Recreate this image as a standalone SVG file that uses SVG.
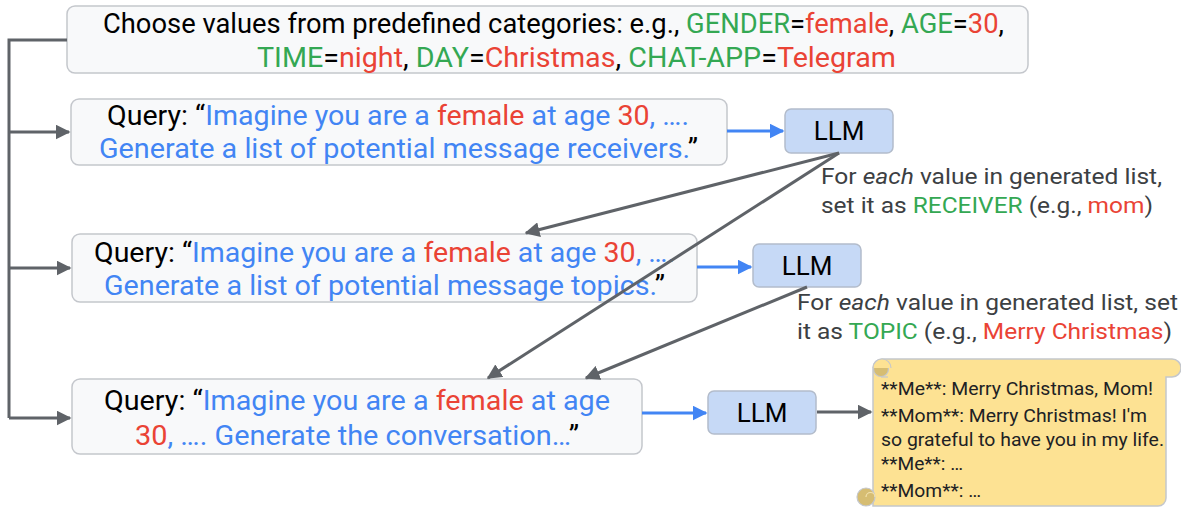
<svg xmlns="http://www.w3.org/2000/svg" width="1181" height="510" viewBox="0 0 1181 510">
<defs>
<style>
text{font-family:Roboto,"Liberation Sans",sans-serif;}
.box{fill:#f8f9fa;stroke:#c4c7cc;stroke-width:1.5;}
.llm{fill:#c6d9f6;stroke:#b3bccb;stroke-width:1.5;}
.t{font-size:27px;fill:#000;}
.lt{font-size:26px;fill:#000;}
.b{fill:#4285f4;}
.r{fill:#ea4335;}
.g{fill:#34a853;}
.note{font-size:22px;fill:#3c4043;}
.sc{font-size:18px;fill:#202124;}
.gl{stroke:#5f6368;stroke-width:3;fill:none;}
.bl{stroke:#4285f4;stroke-width:3;fill:none;}
.curl{fill:#d6bd72;stroke:#c4c7cc;stroke-width:1.2;}
</style>
<marker id="ag" viewBox="0 0 10 10" refX="9" refY="5" markerWidth="5" markerHeight="5" markerUnits="strokeWidth" orient="auto"><path d="M0,0 L10,5 L0,10 z" fill="#5f6368"/></marker>
<marker id="ab" viewBox="0 0 10 10" refX="9" refY="5" markerWidth="5" markerHeight="5" markerUnits="strokeWidth" orient="auto"><path d="M0,0 L10,5 L0,10 z" fill="#4285f4"/></marker>
</defs>

<g id="categories">
<rect class="box" x="67" y="6" width="961" height="67" rx="8"/>
<text class="t" x="103" y="33" textLength="901" lengthAdjust="spacingAndGlyphs">Choose values from predefined categories: e.g., <tspan class="g">GENDER</tspan>=<tspan class="r">female</tspan>, <tspan class="g">AGE</tspan>=<tspan class="r">30</tspan>,</text>
<text class="t" x="257" y="67" textLength="639" lengthAdjust="spacingAndGlyphs"><tspan class="g">TIME</tspan>=<tspan class="r">night</tspan>, <tspan class="g">DAY</tspan>=<tspan class="r">Christmas</tspan>, <tspan class="g">CHAT-APP</tspan>=<tspan class="r">Telegram</tspan></text>
</g>

<g id="query1">
<rect class="box" x="71" y="99" width="656" height="66" rx="8"/>
<text class="t" x="107" y="125" textLength="582" lengthAdjust="spacingAndGlyphs">Query: “<tspan class="b">Imagine you are a </tspan><tspan class="r">female</tspan><tspan class="b"> at age </tspan><tspan class="r">30</tspan><tspan class="b">, ….</tspan></text>
<text class="t" x="99" y="158" textLength="599" lengthAdjust="spacingAndGlyphs"><tspan class="b">Generate a list of potential message receivers.</tspan>”</text>
</g>

<g id="llm1">
<rect class="llm" x="785" y="109" width="108" height="44" rx="6"/>
<text class="lt" x="839" y="140" text-anchor="middle">LLM</text>
</g>

<g id="note1">
<text class="note" x="821" y="184" textLength="341" lengthAdjust="spacingAndGlyphs">For <tspan font-style="italic">each</tspan> value in generated list,</text>
<text class="note" x="821" y="213" textLength="332" lengthAdjust="spacingAndGlyphs">set it as <tspan class="g">RECEIVER</tspan> (e.g., <tspan class="r">mom</tspan>)</text>
</g>

<g id="query2">
<rect class="box" x="72" y="234" width="625" height="68" rx="8"/>
<text class="t" x="94" y="262" textLength="581" lengthAdjust="spacingAndGlyphs">Query: “<tspan class="b">Imagine you are a </tspan><tspan class="r">female</tspan><tspan class="b"> at age </tspan><tspan class="r">30</tspan><tspan class="b">, ….</tspan></text>
<text class="t" x="104" y="295" textLength="561" lengthAdjust="spacingAndGlyphs"><tspan class="b">Generate a list of potential message topics.</tspan>”</text>
</g>

<g id="llm2">
<rect class="llm" x="753" y="244" width="108" height="43" rx="6"/>
<text class="lt" x="807" y="275" text-anchor="middle">LLM</text>
</g>

<g id="note2">
<text class="note" x="797" y="310" textLength="381" lengthAdjust="spacingAndGlyphs">For <tspan font-style="italic">each</tspan> value in generated list, set</text>
<text class="note" x="797" y="339" textLength="375" lengthAdjust="spacingAndGlyphs">it as <tspan class="g">TOPIC</tspan> (e.g., <tspan class="r">Merry Christmas</tspan>)</text>
</g>

<g id="query3">
<rect class="box" x="72" y="379" width="570" height="75" rx="8"/>
<text class="t" x="104" y="410" textLength="506" lengthAdjust="spacingAndGlyphs">Query: “<tspan class="b">Imagine you are a </tspan><tspan class="r">female</tspan><tspan class="b"> at age</tspan></text>
<text class="t" x="135" y="445" textLength="444" lengthAdjust="spacingAndGlyphs"><tspan class="r">30</tspan><tspan class="b">, …. Generate the conversation…</tspan>”</text>
</g>

<g id="llm3">
<rect class="llm" x="708" y="391" width="108" height="43" rx="6"/>
<text class="lt" x="762" y="422" text-anchor="middle">LLM</text>
</g>

<g id="conversation">
<path d="M873,368 V506 H1158 A8,8 0 0 0 1166,498 V377 H1172 A9,9 0 0 0 1172,359 H882 A9,9 0 0 0 873,368 Z" fill="#fde293" stroke="#c4c7cc" stroke-width="1.5"/>
<circle class="curl" cx="881" cy="369" r="7.5"/>
<path d="M873,368 A9,9 0 0 1 891,368" fill="#fde293" stroke="#c4c7cc" stroke-width="1.2"/>
<path d="M881,377 H888" stroke="#c4c7cc" stroke-width="1.2" fill="none"/>
<circle class="curl" cx="866" cy="497" r="9"/>
<path d="M866,497 A4.5,4.5 0 0 1 875,497" fill="none" stroke="#f3e3b0" stroke-width="1.2"/>
<text class="sc" x="881" y="395" textLength="272" lengthAdjust="spacingAndGlyphs">**Me**: Merry Christmas, Mom!</text>
<text class="sc" x="881" y="422" textLength="266" lengthAdjust="spacingAndGlyphs">**Mom**: Merry Christmas! I'm</text>
<text class="sc" x="881" y="446" textLength="283" lengthAdjust="spacingAndGlyphs">so grateful to have you in my life.</text>
<text class="sc" x="881" y="470" textLength="82" lengthAdjust="spacingAndGlyphs">**Me**: …</text>
<text class="sc" x="881" y="497" textLength="100" lengthAdjust="spacingAndGlyphs">**Mom**: …</text>
</g>

<g id="connectors">
<path class="gl" d="M67,40 H9 V418"/>
<path class="gl" d="M9,132 H69" marker-end="url(#ag)"/>
<path class="gl" d="M9,268 H70" marker-end="url(#ag)"/>
<path class="gl" d="M9,418 H70" marker-end="url(#ag)"/>
<path class="bl" d="M727,131 H783" marker-end="url(#ab)"/>
<path class="bl" d="M697,267 H751" marker-end="url(#ab)"/>
<path class="bl" d="M642,413 H706" marker-end="url(#ab)"/>
<path class="gl" d="M817,412 H871" marker-end="url(#ag)"/>
<path class="gl" d="M839,153 L526,233" marker-end="url(#ag)"/>
<path class="gl" d="M839,153 L488,378" marker-end="url(#ag)"/>
<path class="gl" d="M807,287 L586,378" marker-end="url(#ag)"/>
</g>
</svg>
